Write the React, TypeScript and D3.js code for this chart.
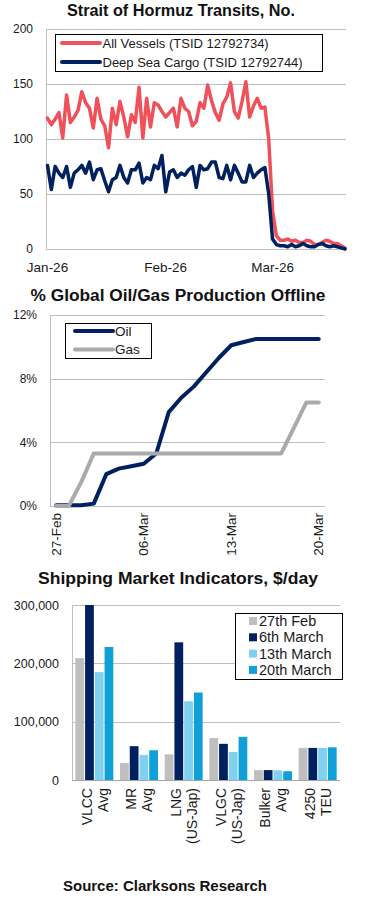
import React, { useEffect, useRef } from 'react';
import * as d3 from 'd3';

// Strait of Hormuz transits, daily from 1 Jan 2026
const transitStart = new Date(2026, 0, 1);
const allVessels = [
  119, 113, 118, 124, 101, 140, 115, 120, 126, 143, 133, 128, 110, 137, 118, 112, 92, 128, 113, 134,
  120, 102, 122, 115, 147, 101, 137, 111, 133, 131, 125, 120, 124, 128, 111, 137, 128, 125, 112, 116,
  133, 128, 149, 135, 124, 117, 132, 138, 151, 125, 119, 134, 152, 120, 130, 137, 128, 129, 100, 35,
  12, 8, 8, 9, 7, 8, 6, 6, 8, 7, 4, 4, 6, 8, 7, 5, 5, 3, 1,
];
const deepSeaCargo = [
  76, 54, 75, 69, 65, 75, 56, 69, 72, 76, 69, 79, 63, 72, 73, 62, 52, 63, 65, 76,
  65, 60, 72, 72, 78, 60, 65, 63, 76, 73, 85, 52, 70, 72, 65, 69, 67, 72, 75, 56,
  76, 72, 73, 79, 79, 65, 64, 76, 63, 76, 69, 61, 61, 76, 65, 69, 72, 74, 50, 9,
  4, 3, 3, 2, 4, 2, 3, 5, 3, 2, 2, 4, 5, 3, 2, 3, 2, 1, 0,
];
const transitTicks = [new Date(2026, 0, 1), new Date(2026, 1, 1), new Date(2026, 2, 1)];
const transitYTicks = [0, 50, 100, 150, 200];

// % of global production offline, daily 27 Feb - 20 Mar
const offlineStart = new Date(2026, 1, 27);
const oilOffline = [
  0.05, 0.05, 0.05, 0.15, 2.0, 2.35, 2.5, 2.65, 3.3, 5.9, 6.8, 7.5, 8.4, 9.3, 10.1, 10.3, 10.5, 10.5,
  10.5, 10.5, 10.5, 10.5,
];
const gasOffline = [
  0, 0, 1.5, 3.3, 3.3, 3.3, 3.3, 3.3, 3.3, 3.3, 3.3, 3.3, 3.3, 3.3, 3.3, 3.3, 3.3, 3.3, 3.3, 4.9,
  6.5, 6.5,
];
const offlineYTicks = [0, 4, 8, 12];

// shipping market indicators, $/day
const marketCategories = [
  ['VLCC', 'Avg'],
  ['MR', 'Avg'],
  ['LNG', '(US-Jap)'],
  ['VLGC', '(US-Jap)'],
  ['Bulker', 'Avg'],
  ['4250', 'TEU'],
];
const marketSeries = ['27th Feb', '6th March', '13th March', '20th March'];
const rate27Feb = [209000, 29000, 44000, 72000, 17000, 55000];
const rate6Mar = [300000, 58000, 236000, 62000, 17000, 55000];
const rate13Mar = [185000, 43000, 135000, 48000, 16500, 55000];
const rate20Mar = [228000, 51000, 150000, 74000, 15000, 56000];
const marketYTicks = [0, 100000, 200000, 300000];

const FONT = '"Liberation Sans", Arial, sans-serif';
const TEXT = '#1a1a1a';
const GRID = '#BFBFBF';
const RED = '#F0505A';
const NAVY = '#002060';
const GAS = '#AAAAAA';
const barColors = ['#BFBFBF', '#002060', '#80D0F0', '#10A0D8'];

const crisp = (v: number) => Math.round(v) + 0.5;

const App = () => {
  const svgRef = useRef<SVGSVGElement>(null);

  useEffect(() => {
    const svg = d3.select(svgRef.current);
    svg.selectAll('*').remove();

    const title = (txt: string, x: number, y: number, len: number, size = 16) =>
      svg
        .append('text')
        .attr('x', x)
        .attr('y', y)
        .attr('text-anchor', 'middle')
        .attr('font-family', FONT)
        .attr('font-weight', 'bold')
        .attr('font-size', size)
        .attr('textLength', len)
        .attr('lengthAdjust', 'spacingAndGlyphs')
        .attr('fill', '#111')
        .text(txt);

    // ---------- Chart 1: Strait of Hormuz transits ----------
    const c1 = svg.append('g');
    const days1 = allVessels.map((_, i) => d3.timeDay.offset(transitStart, i));
    const x1 = d3.scaleTime().domain([days1[0], days1[days1.length - 1]]).range([47.5, 345]);
    const y1 = d3.scaleLinear().domain([0, 200]).range([249, 29]);

    title('Strait of Hormuz Transits, No.', 181, 16, 228);

    c1.selectAll('line.grid')
      .data(transitYTicks)
      .enter()
      .append('line')
      .attr('x1', 46)
      .attr('x2', 346)
      .attr('y1', (d) => crisp(y1(d)))
      .attr('y2', (d) => crisp(y1(d)))
      .attr('stroke', GRID);
    c1.append('line')
      .attr('x1', 46.5).attr('x2', 46.5)
      .attr('y1', y1(200)).attr('y2', y1(0))
      .attr('stroke', GRID);

    c1.selectAll('text.ytick')
      .data(transitYTicks)
      .enter()
      .append('text')
      .attr('x', 33)
      .attr('y', (d) => y1(d) + 4.3)
      .attr('text-anchor', 'end')
      .attr('font-family', FONT)
      .attr('font-size', 12)
      .attr('fill', TEXT)
      .text((d) => d);

    c1.selectAll('text.xtick')
      .data(transitTicks)
      .enter()
      .append('text')
      .attr('x', (d) => x1(d))
      .attr('y', 272)
      .attr('text-anchor', 'middle')
      .attr('font-family', FONT)
      .attr('font-size', 13.5)
      .attr('fill', TEXT)
      .text((d) => d3.timeFormat('%b-%y')(d));

    const line1 = d3
      .line<number>()
      .x((_, i) => x1(days1[i]))
      .y((d) => y1(d));
    [
      { values: allVessels, color: RED },
      { values: deepSeaCargo, color: NAVY },
    ].forEach((s) => {
      c1.append('path')
        .attr('d', line1(s.values))
        .attr('fill', 'none')
        .attr('stroke', s.color)
        .attr('stroke-width', 3.5)
        .attr('stroke-linejoin', 'round')
        .attr('stroke-linecap', 'round');
    });

    const leg1 = c1.append('g');
    leg1.append('rect')
      .attr('x', 55.5).attr('y', 34.5).attr('width', 267).attr('height', 37)
      .attr('fill', '#fff').attr('stroke', '#000');
    [
      { label: 'All Vessels (TSID 12792734)', color: RED, y: 43 },
      { label: 'Deep Sea Cargo (TSID 12792744)', color: NAVY, y: 62 },
    ].forEach((d) => {
      leg1.append('line')
        .attr('x1', 62).attr('x2', 100).attr('y1', d.y).attr('y2', d.y)
        .attr('stroke', d.color).attr('stroke-width', 4).attr('stroke-linecap', 'round');
      leg1.append('text')
        .attr('x', 102.5).attr('y', d.y + 4.6)
        .attr('font-family', FONT).attr('font-size', 13).attr('fill', TEXT)
        .text(d.label);
    });

    // ---------- Chart 2: % production offline ----------
    const c2 = svg.append('g');
    const days2 = oilOffline.map((_, i) => d3.timeDay.offset(offlineStart, i));
    const x2 = d3.scalePoint<Date>().domain(days2).range([50, 325]).padding(0.5);
    const y2 = d3.scaleLinear().domain([0, 12]).range([506, 315]);

    title('% Global Oil/Gas Production Offline', 178, 301, 295);

    c2.selectAll('line.grid')
      .data(offlineYTicks)
      .enter()
      .append('line')
      .attr('x1', 50)
      .attr('x2', 325)
      .attr('y1', (d) => crisp(y2(d)))
      .attr('y2', (d) => crisp(y2(d)))
      .attr('stroke', GRID);
    c2.append('line')
      .attr('x1', 50.5).attr('x2', 50.5)
      .attr('y1', y2(12)).attr('y2', y2(0))
      .attr('stroke', GRID);

    c2.selectAll('text.ytick')
      .data(offlineYTicks)
      .enter()
      .append('text')
      .attr('x', 37)
      .attr('y', (d) => y2(d) + 4.3)
      .attr('text-anchor', 'end')
      .attr('font-family', FONT)
      .attr('font-size', 12)
      .attr('fill', TEXT)
      .text((d) => `${d}%`);

    c2.selectAll('text.xtick')
      .data(days2.filter((_, i) => i % 7 === 0))
      .enter()
      .append('text')
      .attr('transform', (d) => `translate(${x2(d)},513) rotate(-90)`)
      .attr('dy', '0.35em')
      .attr('text-anchor', 'end')
      .attr('font-family', FONT)
      .attr('font-size', 13.5)
      .attr('fill', TEXT)
      .text((d) => d3.timeFormat('%d-%b')(d));

    const line2 = d3
      .line<number>()
      .x((_, i) => x2(days2[i]) as number)
      .y((d) => y2(d));
    [
      { values: oilOffline, color: NAVY },
      { values: gasOffline, color: GAS },
    ].forEach((s) => {
      c2.append('path')
        .attr('d', line2(s.values))
        .attr('fill', 'none')
        .attr('stroke', s.color)
        .attr('stroke-width', 4)
        .attr('stroke-linejoin', 'round')
        .attr('stroke-linecap', 'round');
    });

    const leg2 = c2.append('g');
    leg2.append('rect')
      .attr('x', 65.5).attr('y', 323.5).attr('width', 86).attr('height', 35)
      .attr('fill', '#fff').attr('stroke', '#000');
    [
      { label: 'Oil', color: NAVY, y: 331 },
      { label: 'Gas', color: GAS, y: 349.5 },
    ].forEach((d) => {
      leg2.append('line')
        .attr('x1', 75).attr('x2', 113).attr('y1', d.y).attr('y2', d.y)
        .attr('stroke', d.color).attr('stroke-width', 4).attr('stroke-linecap', 'round');
      leg2.append('text')
        .attr('x', 115).attr('y', d.y + 4.8)
        .attr('font-family', FONT).attr('font-size', 13.5).attr('fill', TEXT)
        .text(d.label);
    });

    // ---------- Chart 3: shipping market indicators ----------
    const c3 = svg.append('g');
    const seriesValues = [rate27Feb, rate6Mar, rate13Mar, rate20Mar];
    const cats = marketCategories.map((c) => c.join(' '));
    const x3 = d3.scaleBand().domain(cats).range([72, 340]).paddingInner(0.15).paddingOuter(0.075);
    const xs = d3.scaleBand<number>().domain([0, 1, 2, 3]).range([0, x3.bandwidth()]).paddingInner(0.1);
    const y3 = d3.scaleLinear().domain([0, 300000]).range([780, 605]);

    title('Shipping Market Indicators, $/day', 178, 584, 280);

    c3.selectAll('line.grid')
      .data(marketYTicks.filter((d) => d > 0))
      .enter()
      .append('line')
      .attr('x1', 72)
      .attr('x2', 340)
      .attr('y1', (d) => crisp(y3(d)))
      .attr('y2', (d) => crisp(y3(d)))
      .attr('stroke', GRID);

    c3.selectAll('text.ytick')
      .data(marketYTicks)
      .enter()
      .append('text')
      .attr('x', 59)
      .attr('y', (d) => y3(d) + 4.5)
      .attr('text-anchor', 'end')
      .attr('font-family', FONT)
      .attr('font-size', 12.5)
      .attr('fill', TEXT)
      .text((d) => d3.format(',')(d));

    seriesValues.forEach((vals, si) => {
      c3.append('g')
        .attr('fill', barColors[si])
        .selectAll('rect')
        .data(vals)
        .enter()
        .append('rect')
        .attr('x', (_, i) => (x3(cats[i]) as number) + (xs(si) as number))
        .attr('y', (d) => y3(d))
        .attr('width', xs.bandwidth())
        .attr('height', (d) => y3(0) - y3(d));
    });

    c3.append('line')
      .attr('x1', 72.5).attr('x2', 72.5)
      .attr('y1', y3(300000)).attr('y2', y3(0))
      .attr('stroke', GRID);
    c3.append('line')
      .attr('x1', 72).attr('x2', 340)
      .attr('y1', crisp(y3(0))).attr('y2', crisp(y3(0)))
      .attr('stroke', '#A6A6A6');

    marketCategories.forEach((lines, i) => {
      const cx = (x3(cats[i]) as number) + x3.bandwidth() / 2;
      lines.forEach((ln, li) => {
        c3.append('text')
          .attr('transform', `translate(${cx + (li === 0 ? -7.5 : 8.5)},788) rotate(-90)`)
          .attr('dy', '0.35em')
          .attr('text-anchor', 'end')
          .attr('font-family', FONT)
          .attr('font-size', 14)
          .attr('fill', TEXT)
          .text(ln);
      });
    });

    const leg3 = c3.append('g');
    leg3.append('rect')
      .attr('x', 235.5).attr('y', 613.5).attr('width', 107).attr('height', 66)
      .attr('fill', '#fff').attr('stroke', '#000');
    marketSeries.forEach((label, i) => {
      const cy = 621 + i * 16.3;
      leg3.append('rect')
        .attr('x', 249).attr('y', cy - 4).attr('width', 8).attr('height', 8)
        .attr('fill', barColors[i]);
      leg3.append('text')
        .attr('x', 259).attr('y', cy + 5)
        .attr('font-family', FONT).attr('font-size', 14.5).attr('fill', TEXT)
        .text(label);
    });

    title('Source: Clarksons Research', 165, 891, 204, 15);
  }, []);

  return (
    <svg
      ref={svgRef}
      width={365}
      height={900}
      style={{ position: 'absolute', left: 0, top: 0, background: '#fff' }}
    />
  );
};

export default App;
